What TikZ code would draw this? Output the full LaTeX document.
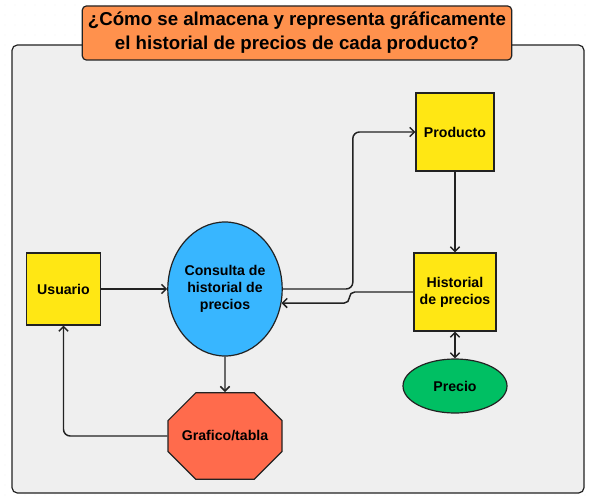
\documentclass[tikz,border=0pt]{standalone}
\usepackage{fontspec}
\setmainfont{Liberation Sans}
\usetikzlibrary{arrows.meta,shapes.geometric,shapes.misc}
\definecolor{panelgray}{HTML}{EFEFEF}
\definecolor{titleorange}{HTML}{FF914D}
\definecolor{boxyellow}{HTML}{FFE714}
\definecolor{queryblue}{HTML}{38B6FF}
\definecolor{pricegreen}{HTML}{00BF63}
\definecolor{chartred}{HTML}{FF6B4C}
\definecolor{edgedark}{HTML}{222222}

\begin{document}
\begin{tikzpicture}[x=0.75pt,y=-0.75pt,
    every node/.style={font=\bfseries\fontsize{10.6}{12.6}\selectfont, align=center},
    entity/.style={draw=edgedark, line width=0.9pt, fill=boxyellow, minimum width=#1, minimum height=#1, inner sep=2pt},
    link/.style={draw=edgedark, line width=1.1pt, -{Straight Barb[length=3.5pt,width=7pt]}}]
    \useasboundingbox (0,0) rectangle (592,503);
    % dotted backdrop
    \foreach \i in {0,...,58}
      \foreach \j in {0,...,49}
        \fill[black!12] (\i*10+5,\j*10+5) circle (0.35pt);
    \draw[rounded corners=4pt, fill=panelgray, draw=edgedark, line width=0.9pt] (12,45) rectangle (584,493);
    \node[draw=edgedark, line width=0.9pt, fill=titleorange, rounded corners=3pt,
      minimum width=322pt, minimum height=40.5pt,
      font=\bfseries\fontsize{14}{18}\selectfont] (title) at (297,33)
      {¿Cómo se almacena y representa gráficamente\\el historial de precios de cada producto?};

    \node[entity=54pt, minimum width=56pt] (usr) at (63.5,289) {Usuario};
    \node[entity=58.5pt] (prod) at (455,132) {Producto};
    \node[entity=58.5pt, minimum width=61.5pt] (hist) at (455,292) {Historial\\de precios};
    \node[ellipse, draw=edgedark, line width=0.9pt, fill=queryblue, minimum width=79.5pt,
      minimum height=100.5pt, inner sep=0pt] (cons) at (225,289) {Consulta de\\historial de\\precios};
    \node[ellipse, draw=edgedark, line width=0.9pt, fill=pricegreen, minimum width=78pt,
      minimum height=40.5pt, inner sep=0pt] (prec) at (455,386) {Precio};
    \node[chamfered rectangle, chamfered rectangle xsep=18pt, chamfered rectangle ysep=17pt,
      draw=edgedark, line width=0.9pt, fill=chartred, minimum width=85.5pt,
      minimum height=65pt, inner sep=0pt] (graf) at (225,436) {Grafico/tabla};

    \draw[link] (usr) -- (cons);
    \draw[link, rounded corners=5pt] (cons.east) -- ++(70,0) |- (prod.west);
    \draw[link] (prod) -- (hist);
    \draw[link, rounded corners=4pt] (hist.west) -- ++(-64,0) |- (cons.-14);
    \draw[link, {Straight Barb[length=3.5pt,width=7pt]}-{Straight Barb[length=3.5pt,width=7pt]}] (hist) -- (prec);
    \draw[link] (cons) -- (graf);
    \draw[link, rounded corners=5pt] (graf.west) -| (usr.south);
\end{tikzpicture}
\end{document}
